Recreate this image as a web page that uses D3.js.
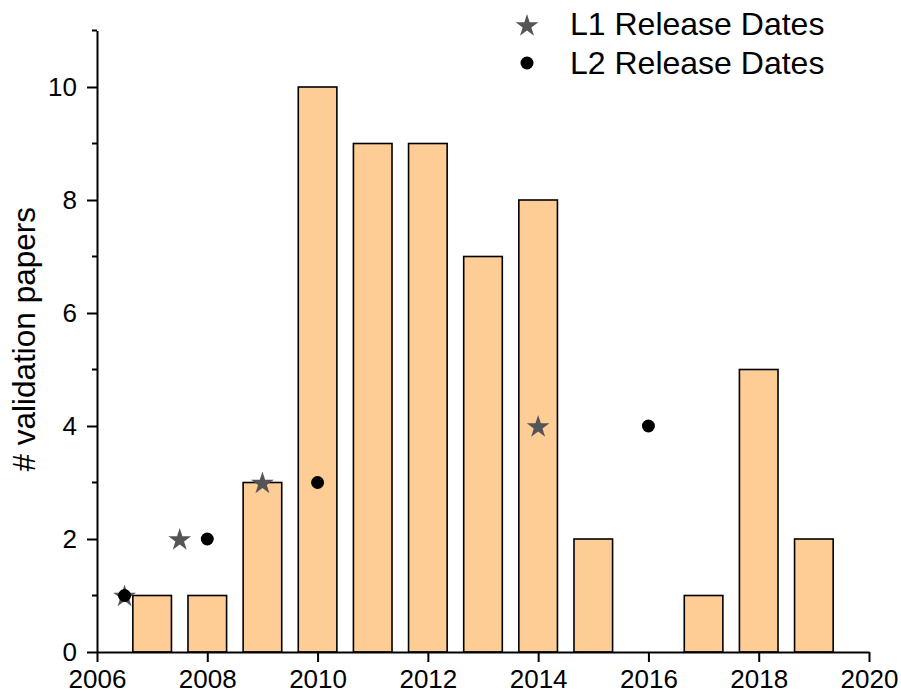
<!DOCTYPE html>
<html>
<head>
<meta charset="utf-8">
<script src="https://cdn.jsdelivr.net/npm/d3@7"></script>
<style>
  body { margin: 0; background: #fff; }
  svg { display: block; font-family: "Liberation Sans", Arial, sans-serif; }
</style>
</head>
<body>
<div id="chart"></div>
<script>
const width = 901, height = 695;

// papers per year
const years = [2007, 2008, 2009, 2010, 2011, 2012, 2013, 2014, 2015, 2016, 2017, 2018, 2019];
const papers = [1, 1, 3, 10, 9, 9, 7, 8, 2, 0, 1, 5, 2];

// release dates
const l1Dates = [2006.5, 2007.5, 2009, 2014];
const l1Values = [1, 2, 3, 4];
const l2Dates = [2006.5, 2008, 2010, 2016];
const l2Values = [1, 2, 3, 4];

const xTicks = [2006, 2008, 2010, 2012, 2014, 2016, 2018, 2020];
const yTicks = [0, 2, 4, 6, 8, 10];
const yMinor = [1, 3, 5, 7, 9, 11];

const margin = {top: 30.5, right: 32, bottom: 43, left: 97};

let svg = d3.select("#chart").append("svg")
    .attr("width", width)
    .attr("height", height);

let x = d3.scaleLinear()
    .domain([2006, 2020])
    .range([margin.left, width - margin.right]);

let y = d3.scaleLinear()
    .domain([0, 11])
    .range([height - margin.bottom, margin.top]);

const barW = (x(2007) - x(2006)) * 0.7;

// bars
svg.append("g")
    .selectAll("rect")
    .data(years.map((d, i) => ({year: d, value: papers[i]})).filter(d => d.value > 0))
    .join("rect")
        .attr("x", d => x(d.year) - barW / 2)
        .attr("width", barW)
        .attr("y", d => y(d.value))
        .attr("height", d => y(0) - y(d.value))
        .attr("fill", "#fecc95")
        .attr("stroke", "#000")
        .attr("stroke-width", 1.6);

// axes
let xAxis = g => g
    .attr("transform", `translate(0,${y(0)})`)
    .call(d3.axisBottom(x).tickValues(xTicks).tickFormat(d3.format("d")).tickSize(10).tickSizeOuter(0).tickPadding(8))
    .call(g => g.select(".domain").attr("stroke-width", 2))
    .call(g => g.selectAll(".tick line").attr("stroke-width", 2))
    .call(g => g.selectAll(".tick text").attr("font-size", 26).attr("fill", "#000"));

let yAxis = g => g
    .attr("transform", `translate(${x(2006)},0)`)
    .call(d3.axisLeft(y).tickValues(yTicks).tickSize(10).tickSizeOuter(0).tickPadding(10))
    .call(g => g.select(".domain").attr("stroke-width", 2))
    .call(g => g.selectAll(".tick line").attr("stroke-width", 2))
    .call(g => g.selectAll(".tick text").attr("font-size", 26).attr("fill", "#000"));

svg.append("g")
    .attr("transform", `translate(${x(2006)},0)`)
    .selectAll("line")
    .data(yMinor)
    .join("line")
        .attr("x1", -5)
        .attr("x2", 0)
        .attr("y1", d => y(d))
        .attr("y2", d => y(d))
        .attr("stroke", "#000")
        .attr("stroke-width", 2);

svg.append("g").call(yAxis);
svg.append("g").call(xAxis);

svg.append("text")
    .attr("transform", `translate(35,${(y(0) + y(11)) / 2 - 2}) rotate(-90)`)
    .attr("text-anchor", "middle")
    .attr("font-size", 31.5)
    .attr("fill", "#000")
    .text("# validation papers");

// markers
const star = d3.symbol(d3.symbolStar, 160);

svg.append("g")
    .selectAll("path")
    .data(l1Dates.map((d, i) => [d, l1Values[i]]))
    .join("path")
        .attr("transform", d => `translate(${x(d[0])},${y(d[1]) + 1})`)
        .attr("d", star)
        .attr("fill", "#555555");

svg.append("g")
    .selectAll("circle")
    .data(l2Dates.map((d, i) => [d, l2Values[i]]))
    .join("circle")
        .attr("cx", d => x(d[0]))
        .attr("cy", d => y(d[1]))
        .attr("r", 6.5)
        .attr("fill", "#000");

// legend
let legend = svg.append("g");
legend.append("path")
    .attr("transform", "translate(527,26)")
    .attr("d", star)
    .attr("fill", "#555555");
legend.append("circle")
    .attr("cx", 527)
    .attr("cy", 63)
    .attr("r", 6.5)
    .attr("fill", "#000");
legend.selectAll("text")
    .data(["L1 Release Dates", "L2 Release Dates"])
    .join("text")
        .attr("x", 570)
        .attr("y", (d, i) => 35 + i * 39)
        .attr("font-size", 32)
        .attr("fill", "#000")
        .text(d => d);
</script>
</body>
</html>
